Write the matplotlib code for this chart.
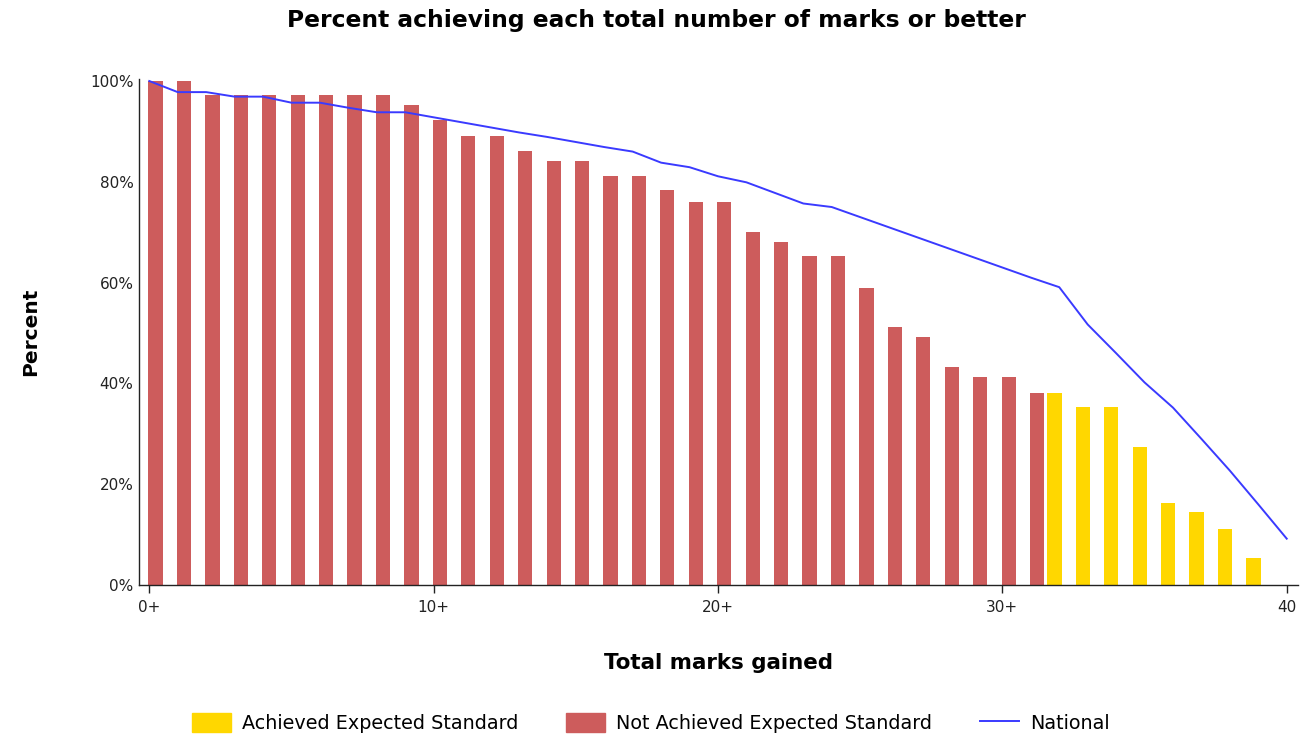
import matplotlib
matplotlib.use('Agg')
import matplotlib.pyplot as plt
import matplotlib.patches as mpatches
from matplotlib.lines import Line2D
import numpy as np

# total marks thresholds ("n+" = n marks or better)
not_marks = list(range(0, 32))
not_achieved = [100, 100, 97.3, 97.3, 97.3, 97.3, 97.3, 97.3, 97.3, 95.3,
                92.2, 89.0, 89.0, 86.2, 84.2, 84.2, 81.1, 81.1, 78.3, 76.0,
                76.0, 70.0, 68.0, 65.3, 65.3, 59.0, 51.2, 49.2, 43.2, 41.3,
                41.3, 38.1]

ach_marks = list(range(32, 40))
achieved = [38.1, 35.3, 35.3, 27.4, 16.3, 14.4, 11.2, 5.3]

nat_marks = list(range(0, 41))
national = [100, 97.8, 97.8, 96.9, 96.9, 95.7, 95.7, 94.7, 93.8, 93.8,
            92.8, 91.8, 90.8, 89.8, 88.9, 87.9, 86.9, 86.0, 83.8, 82.9,
            81.1, 79.9, 77.8, 75.7, 75.0, 73.0, 71.0, 69.0, 67.0, 65.0,
            63.0, 61.0, 59.1, 51.7, 46.0, 40.2, 35.2, 29.0, 22.7, 16.0,
            9.2]

xticks = [0, 10, 20, 30, 40]
xtick_labels = ['0+', '10+', '20+', '30+', '40']
yticks = [0, 20, 40, 60, 80, 100]
ytick_labels = ['0%', '20%', '40%', '60%', '80%', '100%']

RED = '#cd5c5c'
GOLD = '#ffd700'
BLUE = '#3a3aff'

fig = plt.figure(figsize=(13.02, 7.37), dpi=100)
ax = fig.add_axes([0.1068, 0.2062, 0.8902, 0.6866])

ax.bar(np.array(not_marks) + 0.22, not_achieved, width=0.5, color=RED, zorder=2)
ax.bar(np.array(ach_marks) - 0.17, achieved, width=0.5, color=GOLD, zorder=2)
ax.plot(nat_marks, national, color=BLUE, linewidth=1.4, zorder=3)

ax.set_xlim(-0.36, 40.4)
ax.set_ylim(0, 100.4)

for side in ['top', 'right']:
    ax.spines[side].set_visible(False)
for side in ['left', 'bottom']:
    ax.spines[side].set_color('#222222')
    ax.spines[side].set_linewidth(1.0)

ax.set_xticks(xticks)
ax.set_xticklabels(xtick_labels)
ax.set_yticks(yticks)
ax.set_yticklabels(ytick_labels)
ax.tick_params(axis='x', length=6, width=1, direction='out', color='#222222',
               labelsize=11, pad=5, labelcolor='#222222')
ax.tick_params(axis='y', length=0, labelsize=11, pad=4, labelcolor='#222222')

ax.set_xlabel('Total marks gained', fontsize=15.4, fontweight='bold', labelpad=27)
ax.set_ylabel('Percent', fontsize=14.5, fontweight='bold', labelpad=36)

fig.text(0.504, 0.972, 'Percent achieving each total number of marks or better',
         ha='center', va='center', fontsize=16.8, fontweight='bold')

handles = [mpatches.Patch(color=GOLD, label='Achieved Expected Standard'),
           mpatches.Patch(color=RED, label='Not Achieved Expected Standard'),
           Line2D([0], [0], color=BLUE, linewidth=1.4, label='National')]
fig.legend(handles=handles, loc='center', bbox_to_anchor=(0.5, 0.019), ncol=3,
           frameon=False, fontsize=13.8, handlelength=2.0, handleheight=1.1,
           columnspacing=2.5, handletextpad=0.6)

fig.savefig('out.png', dpi=100)
